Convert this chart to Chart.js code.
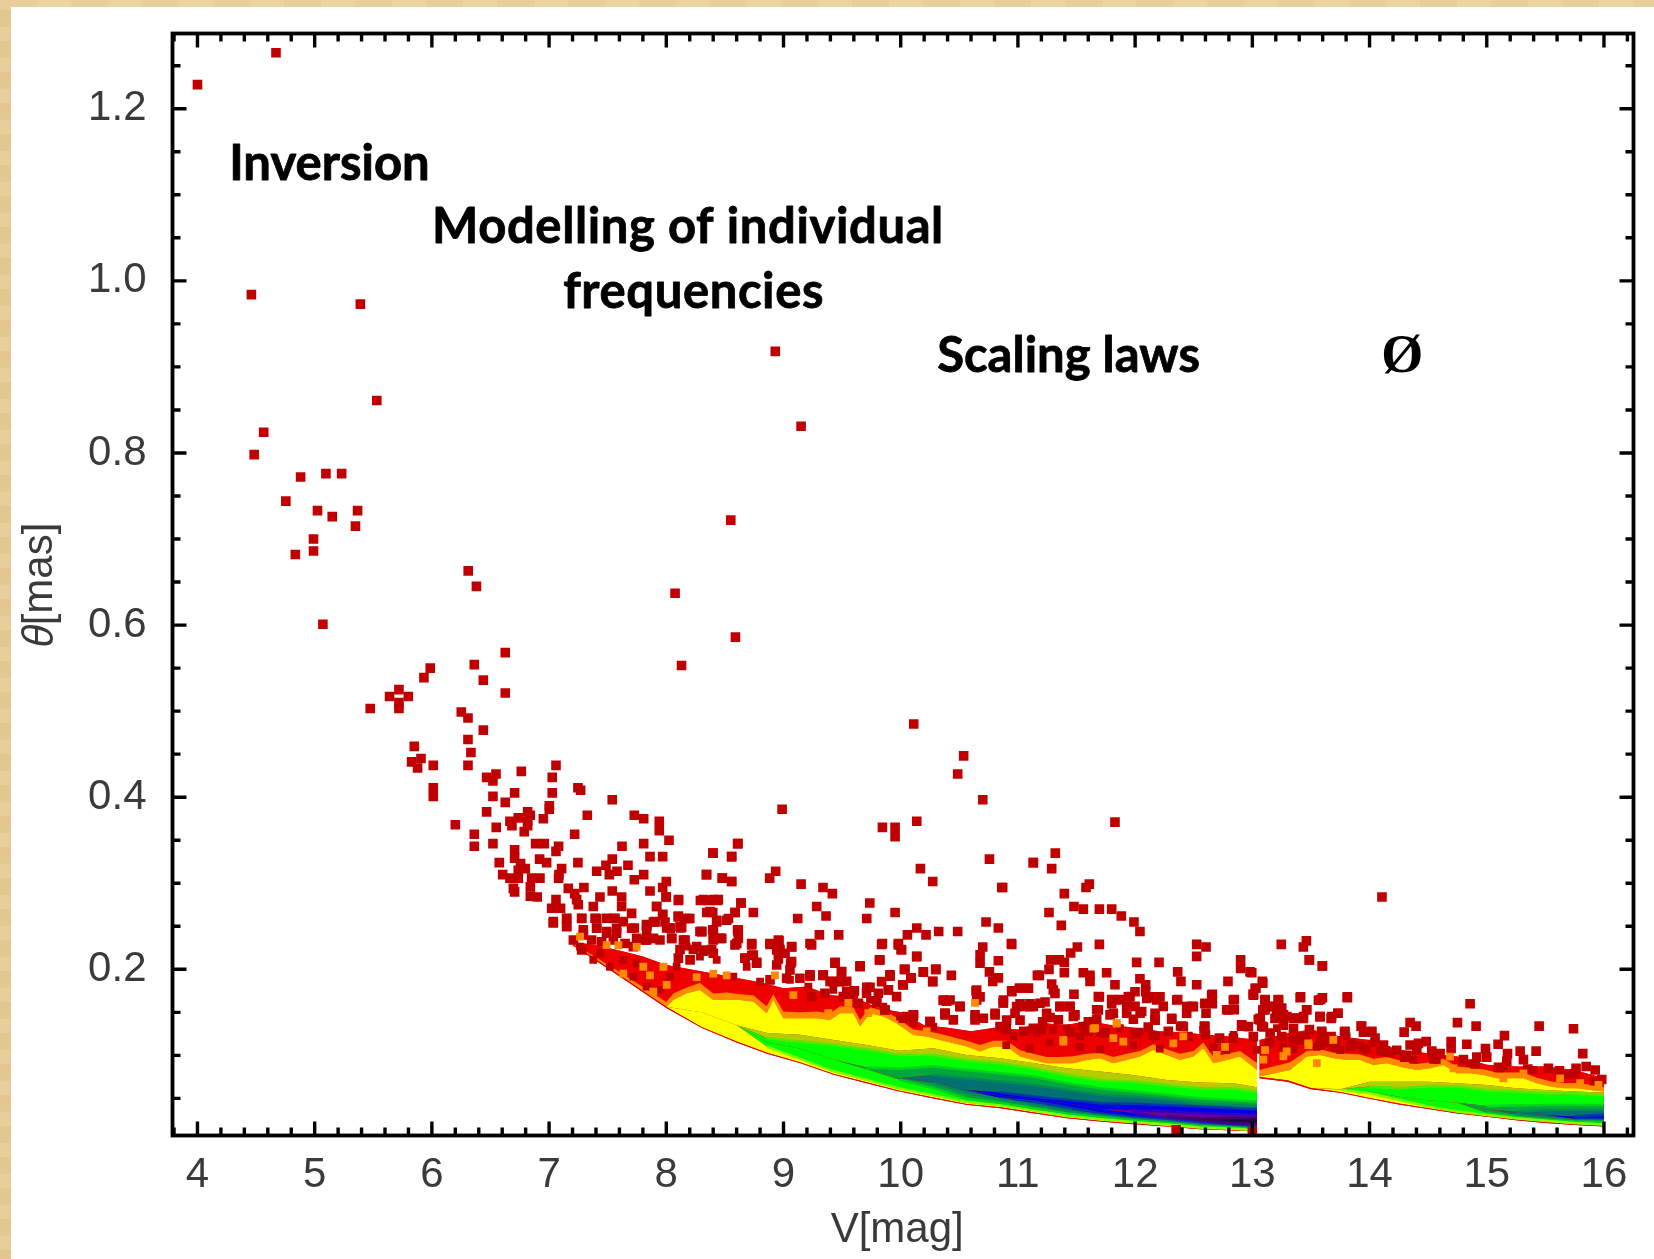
<!DOCTYPE html>
<html><head><meta charset="utf-8">
<style>
html,body{margin:0;padding:0;width:1654px;height:1259px;overflow:hidden;background:#e9d09a}
#parch{position:absolute;left:0;top:0;width:1654px;height:1259px;background:
 repeating-linear-gradient(0deg,rgba(200,160,90,.10) 0 9px,rgba(255,235,190,.10) 9px 23px,rgba(190,150,80,.07) 23px 31px),
 repeating-linear-gradient(90deg,rgba(190,150,80,.08) 0 37px,rgba(255,235,190,.08) 37px 71px)}
#panel{position:absolute;left:11px;top:7px;right:0;bottom:0;background:#fff}
canvas{position:absolute;left:0;top:0}
</style>
<script src="https://cdn.jsdelivr.net/npm/chart.js@4"></script>
</head><body><div id="parch"></div><div id="panel"></div><canvas id="c" width="1654" height="1259"></canvas>
<script>
const xTickLabels=[4,5,6,7,8,9,10,11,12,13,14,15,16];
const yTickLabels=[0.2,0.4,0.6,0.8,1.0,1.2];
const annotations=["Inversion","Modelling of individual","frequencies","Scaling laws","Ø"];

// isolated stars [V, theta]
const brightStars=[[4.00,1.228],[4.67,1.265],[4.46,.984],[5.39,.973],[5.53,.861],[4.565,.824],[4.484,.798],[8.93,.918],[9.15,.831],[4.754,.744],[4.88,.772],[5.096,.776],[5.23,.776],[5.024,.733],[5.15,.726],[5.366,.733],[5.348,.715],[4.99,.700],[4.99,.686],[4.835,.682],[8.55,.722],[5.07,.601],[6.31,.663],[6.38,.645],[8.075,.637],[8.59,.586],[8.13,.553]];
const midStars=[[6.626,.568],[6.362,.554],[6.439,.536],[6.626,.521],[5.986,.550],[5.932,.539],[5.719,.525],[5.639,.517],[5.799,.517],[5.719,.510],[5.719,.503],[5.474,.503],[6.251,.499],[6.308,.492],[6.439,.478],[6.308,.467],[6.333,.452],[6.308,.437],[5.85,.459],[5.907,.445],[5.827,.441],[5.878,.434],[6.012,.437],[6.012,.411],[6.012,.401],[6.2,.368],[6.362,.357],[6.362,.343],[6.521,.346],[6.549,.365],[6.467,.383],[6.626,.394],[6.521,.401],[6.706,.405],[6.467,.423],[6.547,.427],[6.521,.419],[6.763,.430],[7.059,.437],[7.027,.423],[7.027,.405],[7.246,.411],[7.269,.408],[7.539,.397],[7.002,.390],[7.002,.386],[6.817,.383],[6.84,.379],[6.737,.376],[6.666,.372],[6.683,.367],[6.817,.372],[6.817,.367],[6.951,.375],[6.788,.360],[7.326,.379],[7.727,.379],[7.807,.375],[7.94,.372],[7.94,.361],[7.218,.357],[8.023,.350],[8.608,.346],[7.807,.346],[7.622,.343],[6.885,.346],[6.959,.346],[7.081,.343],[7.059,.337],[6.706,.339],[6.706,.329],[6.575,.324],[6.919,.328],[6.979,.324],[7.246,.324],[7.861,.331],[7.969,.331],[8.398,.335],[8.557,.331],[7.539,.328],[7.673,.321],[7.485,.321],[7.406,.314],[7.514,.310],[7.579,.314],[7.107,.317],[7.084,.310],[6.757,.323],[6.797,.317],[6.737,.315],[6.604,.310],[6.666,.306],[6.737,.306],[6.851,.306],[6.922,.306],[6.695,.294],[6.706,.290],[6.84,.296],[6.84,.285],[6.899,.284],[7.081,.306],[7.164,.294],[7.297,.295],[7.218,.288],[7.727,.304],[7.807,.310],[8.341,.310],[8.478,.306],[8.557,.302],[8.0,.302],[7.969,.295],[7.861,.291],[7.539,.291],[8.0,.284],[8.105,.281],[7.434,.284],[7.619,.284],[8.316,.281],[8.401,.281],[8.444,.281],[8.637,.277],[7.059,.281],[7.235,.281],[7.022,.271],[7.098,.271],[7.249,.275],[7.377,.273],[7.619,.273],[7.917,.273],[8.373,.267],[8.586,.266],[7.704,.265],[7.969,.263],[8.102,.261],[8.188,.259],[7.036,.254],[7.15,.259],[7.15,.250],[7.278,.259],[7.406,.259],[7.548,.259],[8.43,.257],[8.515,.257],[7.727,.248],[7.832,.250],[7.903,.255],[8.003,.248],[8.131,.249],[8.287,.244],[8.401,.246],[8.608,.246],[7.292,.246],[7.406,.248],[7.491,.242],[7.576,.242]];
const lowerStarsLeft=[[10.111,.485],[10.537,.448],[10.486,.427],[10.7,.397],[8.988,.386],[8.612,.346],[8.399,.335],[8.558,.331],[8.345,.310],[8.478,.306],[8.558,.302],[7.998,.284],[8.103,.280],[8.933,.314],[8.882,.306],[9.15,.299],[9.337,.295],[9.417,.288],[8.638,.277],[7.918,.273],[7.969,.264],[8.291,.280],[8.359,.280],[8.436,.280],[8.345,.266],[8.396,.266],[8.587,.266],[8.743,.266],[8.103,.262],[8.16,.259],[8.2,.259],[8.53,.259],[7.89,.255],[7.989,.255],[7.833,.252],[8.032,.248],[8.123,.248],[8.43,.255],[8.396,.246],[8.302,.244],[8.612,.244],[9.283,.273],[9.363,.262],[9.121,.259],[9.736,.277],[9.71,.259],[9.952,.266],[10.137,.372],[9.844,.365],[9.952,.365],[9.952,.354],[10.757,.328],[11.132,.324],[10.168,.317],[10.273,.302],[10.862,.295],[9.306,.240],[9.471,.240],[10.137,.248],[10.057,.240],[10.216,.240],[10.324,.244],[10.486,.244],[10.728,.255],[10.833,.248],[10.944,.230],[10.7,.226],[9.844,.230],[9.98,.230],[10.003,.223],[9.226,.230],[10.137,.215],[9.818,.211],[10.677,.217],[10.677,.207],[10.833,.210],[9.44,.208],[9.653,.204],[10.031,.200],[10.298,.200],[10.193,.197],[10.432,.193],[10.757,.197],[11.166,.193],[10.785,.186],[10.833,.190],[10.273,.186],[10.088,.190],[9.909,.192],[10.017,.182],[9.335,.193],[9.494,.197],[11.012,.178],[11.089,.178],[10.947,.175],[10.643,.175],[10.392,.163],[10.506,.157],[10.677,.168],[10.876,.161],[11.047,.157],[11.132,.157],[10.108,.147],[10.378,.149],[10.634,.147],[10.805,.149],[9.71,.179],[9.605,.175],[9.895,.176],[9.795,.161],[9.866,.153],[9.397,.186],[9.482,.186],[9.539,.186],[9.226,.192],[9.07,.226],[8.962,.233],[8.885,.230],[8.729,.230],[8.601,.230],[8.97,.223],[8.956,.212],[9.061,.207],[8.729,.216],[8.672,.213],[8.771,.208],[8.473,.236],[8.402,.236],[8.387,.223],[8.316,.221],[8.231,.223],[8.146,.234],[8.117,.223],[8.203,.211],[8.103,.213],[7.89,.236],[8.046,.236],[7.819,.234]];
const lowerStarsMiddle=[[11.828,.371],[11.319,.335],[11.131,.324],[11.288,.317],[10.87,.295],[11.609,.299],[11.581,.295],[11.396,.288],[11.478,.273],[11.558,.270],[11.695,.270],[11.8,.270],[11.882,.262],[11.99,.255],[12.041,.244],[11.265,.266],[11.37,.251],[10.947,.229],[11.507,.226],[11.695,.229],[11.45,.219],[12.525,.229],[12.605,.226],[12.525,.215],[13.247,.229],[13.461,.233],[13.435,.226],[13.486,.211],[13.597,.204],[14.106,.284],[12.9,.211],[12.9,.201],[12.98,.197],[12.013,.208],[12.204,.208],[12.363,.197],[12.391,.186],[12.525,.182],[12.792,.186],[13.085,.186],[13.031,.178],[13.008,.171],[11.279,.211],[11.353,.211],[11.396,.208],[11.265,.200],[11.396,.196],[11.183,.193],[11.558,.196],[11.615,.193],[11.757,.196],[11.615,.186],[11.828,.182],[12.041,.189],[12.09,.182],[11.288,.183],[11.316,.172],[11.478,.171],[10.947,.174],[11.018,.178],[11.089,.178],[11.999,.174],[12.09,.174],[11.695,.168],[11.8,.165],[11.871,.165],[11.942,.168],[12.155,.168],[12.212,.168],[12.363,.165],[12.659,.171],[12.659,.160],[12.596,.160],[12.846,.165],[12.846,.153],[12.781,.153],[13.108,.165],[13.222,.165],[13.412,.168],[13.583,.165],[13.81,.168],[13.108,.153],[13.208,.153],[13.463,.153],[13.731,.149],[13.577,.145],[13.677,.145],[10.875,.161],[11.018,.160],[11.103,.160],[11.359,.157],[11.444,.157],[11.231,.162],[11.672,.153],[11.8,.160],[11.999,.157],[12.056,.151],[12.24,.157],[12.482,.157],[12.605,.149],[12.44,.149],[12.17,.149],[11.814,.149],[11.928,.149],[11.487,.147],[11.274,.144],[10.975,.149],[10.904,.141],[11.018,.141],[11.211,.139],[11.601,.139],[12.312,.142],[12.17,.141],[11.985,.142],[13.193,.143],[13.264,.143],[13.35,.143],[13.435,.143],[12.909,.134],[13.051,.142],[13.08,.134],[12.59,.134],[12.397,.134],[12.112,.133],[13.933,.134],[13.791,.128],[14.018,.128],[13.591,.128],[13.008,.122],[12.838,.120],[12.283,.128]];
const lowerStarsRight=[[13.487,.211],[13.598,.204],[12.995,.196],[13.089,.184],[13.024,.178],[13.01,.171],[13.408,.167],[13.598,.167],[13.564,.164],[13.811,.167],[13.109,.164],[13.223,.164],[13.089,.153],[13.166,.157],[13.251,.155],[13.464,.153],[13.729,.149],[13.208,.145],[13.294,.145],[13.066,.143],[13.436,.145],[13.578,.145],[13.672,.143],[13.365,.143],[14.858,.160],[14.75,.138],[14.909,.134],[14.346,.138],[14.397,.134],[14.295,.127],[15.447,.134],[15.74,.131],[15.151,.123],[13.928,.134],[13.948,.127],[14.019,.127],[13.786,.127],[13.672,.122],[13.592,.127],[13.487,.130],[13.351,.131],[13.265,.135],[13.095,.133],[14.696,.116],[14.696,.108],[14.83,.113],[15.097,.113],[14.483,.116],[14.346,.112],[14.417,.114],[14.119,.112],[14.047,.120],[14.989,.108],[15.285,.105],[15.421,.105],[15.819,.102],[15.177,.102],[14.531,.105],[14.232,.106],[15.0,.098],[14.915,.098],[15.848,.087],[15.762,.085],[15.925,.083],[15.981,.072],[15.526,.085],[15.313,.095],[15.171,.093],[14.801,.095],[14.602,.102],[14.403,.106],[14.318,.100],[13.948,.108],[13.834,.110],[13.706,.110],[13.578,.112],[13.152,.126],[13.351,.118],[12.35,.0135],[13.0,.0115]];
const fringeLeft=[[7.036,.2554],[7.15,.2593],[7.15,.2496],[7.278,.2593],[7.392,.2593],[7.491,.2593],[7.562,.2593],[7.633,.2554],[7.406,.2477],[7.491,.2438],[7.576,.2477],[7.704,.2477],[7.832,.2515],[7.832,.2438],[7.903,.2554],[8.031,.2477],[8.117,.2496],[8.302,.2438],[8.401,.2457],[8.458,.236],[8.614,.2457],[8.614,.236],[8.401,.2341],[8.33,.2225],[8.586,.2283],[8.728,.2283],[8.885,.229],[8.956,.2341],[9.069,.2264],[8.942,.2225],[9.013,.2186],[8.742,.2167],[8.671,.2128],[8.771,.207],[8.401,.2186],[8.259,.2264],[8.16,.2341],[8.046,.236],[7.946,.2341],[7.832,.2341],[7.747,.236],[7.292,.2399],[7.207,.2341],[7.278,.2225],[7.363,.2341],[7.448,.232],[7.548,.2341],[7.648,.23],[7.719,.2264],[9.069,.209],[8.942,.205],[9.055,.1993],[9.24,.2283],[9.439,.207],[9.653,.203],[9.823,.2109],[9.837,.229],[9.98,.2283],[10.008,.2225],[10.136,.2148],[10.037,.2],[10.193,.1966],[10.301,.2],[10.088,.1896],[10.273,.1857],[9.908,.1935],[9.837,.1857],[10.022,.1819],[9.738,.1792],[9.539,.1741],[9.596,.1722],[9.425,.1857],[9.482,.1857],[9.496,.1973],[9.34,.1935],[9.226,.1935],[9.14,.1896],[9.027,.1896],[8.885,.1877],[9.894,.1761],[9.809,.1722],[9.965,.1683],[9.795,.1614],[9.709,.1722],[9.638,.1606],[9.51,.1683],[9.354,.1722],[9.24,.1683],[10.364,.1637],[10.378,.149],[10.022,.1432],[10.108,.147],[10.25,.1393],[9.866,.1528]];
const fringeRight=[[10.648,.176],[10.648,.1644],[10.364,.1644],[10.421,.1644],[10.506,.1567],[10.378,.147],[10.449,.1412],[10.051,.1451],[10.108,.1451],[10.25,.1392],[10.876,.1644],[10.989,.1567],[11.103,.1567],[11.188,.1605],[11.302,.176],[11.359,.1567],[11.444,.1567],[11.245,.1489],[11.473,.1451],[11.686,.1683],[11.686,.1528],[11.843,.1644],[11.956,.1683],[12.099,.1663],[12.184,.1644],[12.355,.1644],[12.44,.1567],[12.497,.1567],[12.596,.1605],[12.653,.170],[12.795,.1528],[12.838,.1644],[13.009,.170],[13.108,.1644],[13.222,.1644],[13.094,.1528],[13.179,.1567],[13.066,.1412],[13.265,.147],[13.378,.1431],[12.909,.1354],[12.966,.1334],[12.596,.1334],[12.411,.1334],[12.312,.1431],[12.17,.1412],[12.042,.1489],[11.928,.1567],[11.786,.147],[11.672,.1412],[11.558,.1334],[11.345,.1412],[11.132,.1315],[10.847,.1334],[10.705,.1431],[10.805,.147],[10.634,.1412],[10.9,.13],[11.05,.128],[11.2,.13],[11.45,.127],[11.6,.128],[11.75,.126],[12.0,.125],[12.15,.123],[12.45,.122],[12.6,.124],[12.72,.12],[13.15,.115],[13.25,.122],[13.42,.118],[13.62,.115],[13.85,.114],[14.1,.105],[14.3,.098],[14.55,.096],[14.9,.09],[15.1,.086],[15.35,.084],[15.62,.082],[15.75,.079]];

// darker mottling inside the red part of the band
const bandMottling=[[10.96,.122],[11.16,.1258],[11.3,.1297],[11.416,.1316],[11.53,.122],[11.7,.1258],[11.87,.1316],[12.04,.1277],[12.18,.122],[12.38,.1335],[12.58,.1297],[12.84,.1238],[13.01,.12],[13.21,.1316],[13.41,.122],[13.58,.122],[13.805,.122],[14.03,.114],[14.145,.1064],[10.9,.112],[11.1,.108],[11.27,.115],[11.53,.11],[11.7,.107],[11.985,.112],[12.21,.108],[12.67,.109],[12.78,.106],[13.12,.112],[13.35,.107],[13.55,.11],[13.75,.106],[13.92,.112],[8.174,.2264],[8.287,.2148],[8.43,.2109],[8.686,.203],[8.572,.1915],[8.8,.1857],[9.055,.1877],[9.212,.18],[9.425,.1761],[9.596,.1683],[9.738,.1644],[9.852,.1567],[9.994,.1451],[10.108,.1374],[10.278,.1335],[7.264,.2264],[7.434,.2186],[7.377,.2109],[7.519,.203],[7.633,.2109],[7.747,.207],[7.719,.1915],[7.832,.18],[7.946,.176],[8.031,.1915],[8.088,.203],[13.04,.1063],[13.265,.1102],[13.464,.1218],[13.72,.118],[13.976,.1063],[14.175,.1024],[14.374,.0947],[14.574,.0947],[14.858,.0908],[15.142,.0869],[15.398,.0831],[15.683,.0773],[15.91,.0695]];

// patches of higher density inside the red part of the band
const orangePatches=[[7.264,.238],[7.491,.228],[7.591,.228],[7.747,.226],[7.633,.195],[7.804,.203],[7.861,.193],[7.975,.203],[8.003,.182],[7.889,.174],[8.259,.191],[8.401,.195],[8.515,.193],[8.927,.193],[9.084,.170],[9.382,.149],[9.553,.161],[9.724,.149],[10.221,.128],[10.634,.161],[11.388,.116],[11.644,.131],[11.843,.137],[11.814,.120],[12.326,.114],[12.411,.122],[12.767,.110],[13.265,.099],[13.094,.095],[11.658,.1316],[11.842,.1374],[11.387,.118],[11.899,.116],[13.478,.114],[13.691,.118],[13.293,.1045],[12.696,.1006],[13.109,.106],[13.479,.112],[13.55,.091],[14.687,.0986],[14.716,.085],[15.313,.079],[15.626,.0734],[15.797,.0676],[15.953,.0657],[15.142,.0734]];

// main branch V<13: boundaries between colour levels, read at each V
const branchV=[7.2,7.6,8.0,8.3,8.6,8.86,9.14,9.43,9.71,9.99,10.28,10.56,10.85,11.13,11.42,11.7,11.98,12.27,12.55,12.84,13.04];
const lowerEnvelope=[.228,.192,.155,.132,.115,.102,.091,.0775,.0677,.058,.050,.0425,.0386,.0328,.027,.0231,.0201,.0173,.0142,.0127,.0115];
const redEdge=[.2295,.1935,.1565,.133,.116,.103,.092,.0785,.0687,.059,.051,.0435,.0396,.0338,.0278,.024,.021,.018,.0149,.0133,.012];
const yellowEdge=[.2295,.1935,.1565,.15,.135,.110,.096,.0815,.0715,.0615,.0535,.0458,.0418,.0358,.0298,.0258,.0226,.0196,.0163,.0146,.0131];
const greenLow=[.2295,.1935,.1565,.15,.135,.115,.108,.095,.084,.0716,.062,.050,.0445,.0385,.0325,.0285,.0245,.0215,.018,.0158,.0145];
const darkGreenLow=[.2295,.1935,.1565,.15,.135,.115,.108,.095,.084,.0735,.0677,.056,.049,.0425,.0347,.0305,.0265,.0235,.0195,.0168,.0155];
const tealLow=[.2295,.1935,.1565,.15,.135,.115,.108,.095,.084,.0735,.0696,.0599,.0503,.0464,.0398,.0328,.0285,.025,.021,.0178,.0165];
const blueLow=[.2295,.1935,.1565,.15,.135,.115,.108,.095,.084,.0735,.0696,.0599,.0535,.0493,.044,.038,.033,.027,.022,.0185,.0175];
const purpleLow=[.2295,.1935,.1565,.15,.135,.115,.108,.095,.084,.0735,.0696,.0599,.0535,.0493,.044,.038,.034,.029,.0245,.0215,.0205];
const navyTop=[.2295,.1935,.1565,.15,.135,.115,.108,.095,.084,.0735,.0696,.0599,.0535,.0493,.044,.038,.034,.0295,.0265,.0275,.027];
const purpleTop=[.2295,.1935,.1565,.15,.135,.115,.108,.095,.084,.0735,.0696,.0599,.0535,.0493,.044,.038,.036,.0348,.0328,.0315,.0305];
const blueTop=[.2295,.1935,.1565,.15,.135,.115,.108,.095,.084,.0735,.0696,.0599,.0568,.0522,.0483,.0444,.0437,.042,.0406,.0385,.0375];
const tealTop=[.2295,.1935,.1565,.15,.135,.115,.108,.095,.084,.0735,.0773,.0734,.0696,.0657,.0599,.0541,.052,.049,.0437,.0425,.0413];
const darkGreenTop=[.2295,.1935,.1565,.15,.135,.115,.108,.095,.086,.0845,.0875,.0831,.0793,.0754,.0676,.0618,.058,.0541,.0502,.048,.0464];
const greenTop=[.2295,.1935,.1565,.15,.135,.12,.116,.1122,.1072,.1006,.1005,.0947,.0909,.0851,.0773,.0715,.0696,.0657,.0618,.0618,.058];
const oliveTop=[.2295,.1935,.1565,.15,.135,.126,.124,.118,.112,.1055,.1083,.1005,.0967,.091,.085,.0812,.0773,.0715,.0684,.0676,.063];
const yellowTopV=[7.2,7.6,8.0,8.06,8.174,8.287,8.401,8.515,8.629,8.742,8.856,8.913,8.998,9.14,9.283,9.397,9.482,9.596,9.653,9.738,9.852,9.965,10.108,10.222,10.335,10.449,10.563,10.677,10.79,10.904,11.018,11.132,11.245,11.359,11.473,11.587,11.7,11.814,11.928,12.042,12.155,12.269,12.383,12.497,12.582,12.667,12.781,12.895,13.04];
const yellowTop=[.2295,.1935,.1565,.1644,.1722,.1761,.1644,.1644,.1644,.1625,.149,.1644,.1432,.1432,.1432,.1412,.149,.149,.1335,.149,.1451,.1374,.1238,.1218,.118,.1141,.1102,.1044,.1102,.1102,.0986,.0947,.0909,.0909,.0909,.0947,.0967,.0909,.0947,.0986,.1063,.1005,.0947,.0986,.1083,.0909,.0947,.0986,.0831];
const orangeTop=[.231,.197,.162,.172,.179,.184,.172,.173,.171,.170,.157,.171,.151,.150,.151,.149,.157,.156,.141,.156,.152,.144,.130,.128,.125,.121,.117,.112,.117,.117,.106,.102,.098,.098,.099,.102,.103,.098,.102,.105,.113,.107,.102,.105,.115,.098,.102,.105,.091];
const redTopV=[7.2,7.4,7.6,7.8,8.0,8.2,8.4,8.6,8.8,9.0,9.2,9.4,9.6,9.8,10.0,10.2,10.4,10.6,10.8,11,11.2,11.4,11.6,11.8,12,12.2,12.4,12.6,12.8,13.04];
const redTop=[.232,.228,.222,.215,.205,.2,.195,.19,.185,.178,.18,.17,.168,.155,.15,.135,.132,.128,.132,.13,.138,.135,.14,.135,.132,.128,.127,.124,.122,.118];

// faint branch V>13
const faintV=[13.06,13.3,13.5,13.75,14,14.25,14.5,14.75,15,15.25,15.5,15.75,16];
const faintLower=[.0734,.0695,.0607,.0565,.0495,.043,.0376,.0325,.0286,.0245,.0215,.019,.0173];
const faintRedEdge=[.0749,.071,.0622,.0575,.0505,.044,.0386,.0335,.0296,.0255,.0225,.02,.0183];
const faintYellowEdge=[.0749,.071,.0622,.06,.056,.0482,.0405,.0347,.0308,.027,.024,.0215,.0198];
const faintGreenLow=[.0749,.071,.0622,.0605,.058,.052,.048,.045,.033,.028,.0255,.0233,.0225];
const faintDarkLow=[.0749,.071,.0622,.0605,.058,.052,.048,.045,.037,.0315,.0275,.0245,.024];
const faintTealLow=[.0749,.071,.0622,.0605,.058,.052,.048,.045,.037,.0335,.0305,.026,.0255];
const faintBlueTop=[.0749,.071,.0622,.0605,.058,.052,.048,.045,.037,.0335,.0305,.029,.031];
const faintTealTop=[.0749,.071,.0622,.0605,.058,.052,.048,.045,.037,.0345,.0366,.0366,.0366];
const faintDarkTop=[.0749,.071,.0622,.0605,.058,.052,.048,.045,.0413,.0417,.0424,.0424,.0424];
const faintGreenTop=[.0749,.071,.0622,.0605,.0637,.0618,.0637,.0637,.0599,.0579,.056,.056,.0541];
const faintOliveTop=[.0749,.071,.0622,.0605,.0695,.0695,.0695,.0676,.0657,.0618,.0599,.0579,.0568];
const faintYellowTopV=[13.06,13.322,13.464,13.578,13.692,13.806,13.92,14.033,14.147,14.261,14.403,14.517,14.63,14.744,14.858,14.972,15.085,15.199,15.313,15.427,15.541,15.654,15.768,15.882,16];
const faintYellowTop=[.0754,.0831,.0986,.1005,.0966,.0947,.0947,.0889,.0908,.0869,.0831,.085,.0889,.0792,.0792,.0773,.0734,.0734,.0734,.0676,.0637,.0618,.0618,.0599,.0579];
const faintOrangeTop=[.083,.092,.105,.107,.103,.102,.101,.096,.098,.094,.09,.092,.096,.087,.086,.084,.08,.08,.08,.074,.07,.068,.068,.066,.063];
const faintRedTop=[.118,.1257,.13,.1218,.118,.1063,.1024,.0986,.089,.087,.087,.083,.0734];

const C={dark:'#c00000',red:'#ee0000',edge:'#e40000',yel:'#ffff00',grn:'#00ff00',dgr:'#00a83a',teal:'#007070',blue:'#0000e6',pur:'#6a00a0',navy:'#180838',oli:'#b4cc00',org:'#ff8a00'};
function mix(a,b){const h=(s,i)=>parseInt(s.substr(1+2*i,2),16);return 'rgb('+[0,1,2].map(i=>Math.round((h(a,i)+h(b,i))/2)).join(',')+')';}
const datasets=[];
const starSets=[brightStars,midStars,lowerStarsLeft,lowerStarsMiddle,lowerStarsRight,fringeLeft,fringeRight];
function pts(a){return a.map(p=>({x:p[0],y:p[1]}));}
datasets.push({label:'orange',data:pts(orangePatches),pointStyle:'rect',pointRadius:5.5,pointBorderWidth:0,backgroundColor:C.org,pointBackgroundColor:C.org,order:0});
datasets.push({label:'mottling',data:pts(bandMottling),pointStyle:'rect',pointRadius:5.5,pointBorderWidth:0,backgroundColor:C.dark,pointBackgroundColor:C.dark,order:1});
starSets.forEach((s,i)=>datasets.push({label:'stars'+i,data:pts(s),pointStyle:'rect',pointRadius:6.8,pointBorderWidth:0,pointBackgroundColor:C.dark,backgroundColor:C.dark,order:1}));
function addBranch(bounds,colors){
  const base=datasets.length;
  bounds.forEach(([V,b],i)=>{
    const col=i===0?colors[0]:colors[i-1];
    datasets.push({label:'band',showLine:true,data:V.map((x,j)=>({x,y:b[j]})),fill:i===0?false:'-1',backgroundColor:col,borderWidth:0,pointRadius:0,order:3});
  });
  // backing so that no hairlines show between the levels
  const last=bounds[bounds.length-1];
  datasets.push({label:'backing',showLine:true,data:last[0].map((x,j)=>({x,y:last[1][j]})),fill:{target:base},backgroundColor:C.red,borderWidth:0,pointRadius:0,order:4});
  // soft transitions: a blended line along each boundary between two real colour levels
  bounds.forEach(([V,b],i)=>{
    const below=bounds[i-1],above=bounds[i+1];
    if(i<2||!above||above[0]!==V||below[0]!==V)return;
    const same=(o,j)=>Math.abs(o[1][j]-b[j])<1e-6;
    const blend=mix(colors[i-1],colors[i]);
    datasets.push({label:'blend',showLine:true,data:V.map((x,j)=>({x,y:b[j]})),fill:false,borderWidth:2.5,borderColor:blend,pointRadius:0,order:2,
      segment:{borderColor:c=>{const p=c.p0DataIndex,q=c.p1DataIndex;return (same(below,p)||same(below,q)||same(above,p)||same(above,q))?'transparent':blend;}}});
  });
}
addBranch([[branchV,lowerEnvelope],[branchV,redEdge],[branchV,yellowEdge],[branchV,greenLow],[branchV,darkGreenLow],[branchV,tealLow],[branchV,blueLow],[branchV,purpleLow],[branchV,navyTop],[branchV,purpleTop],[branchV,blueTop],[branchV,tealTop],[branchV,darkGreenTop],[branchV,greenTop],[branchV,oliveTop],[yellowTopV,yellowTop],[yellowTopV,orangeTop],[redTopV,redTop]],
 [C.edge,C.yel,C.grn,C.dgr,C.teal,C.blue,C.pur,C.navy,C.pur,C.blue,C.teal,C.dgr,C.grn,C.oli,C.yel,C.org,C.red]);
addBranch([[faintV,faintLower],[faintV,faintRedEdge],[faintV,faintYellowEdge],[faintV,faintGreenLow],[faintV,faintDarkLow],[faintV,faintTealLow],[faintV,faintBlueTop],[faintV,faintTealTop],[faintV,faintDarkTop],[faintV,faintGreenTop],[faintV,faintOliveTop],[faintYellowTopV,faintYellowTop],[faintYellowTopV,faintOrangeTop],[faintV,faintRedTop]],
 [C.edge,C.yel,C.grn,C.dgr,C.teal,C.blue,C.teal,C.dgr,C.grn,C.oli,C.yel,C.org,C.red]);

const annotationAnchors=[[5.126,1.117],[8.185,1.044],[8.233,.9684],[11.432,.894],[14.278,.894]];
const annotationTracking=['0px','0.6px','0.6px','0px','0px'];
const frame={id:'frame',afterDatasetsDraw(ch){
  const {ctx,chartArea:a,scales:{x,y}}=ch;
  ctx.save();ctx.strokeStyle='#000';ctx.fillStyle='#000';
  ctx.lineWidth=3.4;ctx.lineCap='butt';
  ctx.beginPath();
  const tick=(px,len,hor)=>{
    if(hor){ctx.moveTo(px,a.bottom);ctx.lineTo(px,a.bottom-len);ctx.moveTo(px,a.top);ctx.lineTo(px,a.top+len);}
    else{ctx.moveTo(a.left,px);ctx.lineTo(a.left+len,px);ctx.moveTo(a.right,px);ctx.lineTo(a.right-len,px);}
  };
  for(let i=19;i<=81;i++){tick(x.getPixelForValue(i/5),i%5===0?14:8,true);}
  for(let i=1;i<=25;i++){tick(y.getPixelForValue(i/20),i%4===0?14:8,false);}
  ctx.stroke();
  ctx.lineWidth=3.8;ctx.strokeRect(a.left,a.top,a.right-a.left,a.bottom-a.top);
  ctx.textAlign='center';ctx.textBaseline='alphabetic';ctx.lineWidth=.8;ctx.lineJoin='round';
  annotations.forEach((t,i)=>{
    ctx.font=t==='Ø'?'bold 54px "Liberation Serif"':'bold 49px Lato';
    ctx.letterSpacing=annotationTracking[i];
    const px=x.getPixelForValue(annotationAnchors[i][0]),py=y.getPixelForValue(annotationAnchors[i][1]);
    ctx.fillText(t,px,py);if(t!=='Ø')ctx.strokeText(t,px,py);
  });
  ctx.restore();
}};
new Chart(document.getElementById('c'),{
  type:'scatter',
  data:{datasets},
  plugins:[frame],
  options:{
    responsive:false,animation:false,events:[],
    layout:{padding:{top:33.5,right:20.5,left:0,bottom:0}},
    plugins:{legend:{display:false},tooltip:{enabled:false},title:{display:false}},
    scales:{
      x:{type:'linear',min:3.787,max:16.252,
        afterFit(s){s.height=123.5;s.paddingLeft=0;s.paddingRight=0;},
        afterBuildTicks(s){s.ticks=xTickLabels.map(v=>({value:v}));},
        grid:{display:false,drawTicks:false},border:{display:false},
        ticks:{autoSkip:false,maxRotation:0,padding:15,color:'#3a3a3a',font:{family:'"Liberation Sans"',size:42},callback:v=>String(v)},
        title:{display:true,text:'V[mag] ',color:'#3a3a3a',font:{family:'"Liberation Sans"',size:42},padding:{top:0,bottom:3}}},
      y:{type:'linear',min:.0069,max:1.2874,
        afterFit(s){s.width=172.5;s.paddingTop=0;s.paddingBottom=0;},
        afterBuildTicks(s){s.ticks=yTickLabels.map(v=>({value:v}));},
        grid:{display:false,drawTicks:false},border:{display:false},
        ticks:{autoSkip:false,padding:26,color:'#3a3a3a',font:{family:'"Liberation Sans"',size:42},callback:v=>v.toFixed(1)},
        title:{display:true,text:'𝜃[mas]',color:'#3a3a3a',font:{family:'"Liberation Sans","DejaVu Sans"',size:42},padding:{top:15,bottom:0}}}
    }
  }
});
</script></body></html>
